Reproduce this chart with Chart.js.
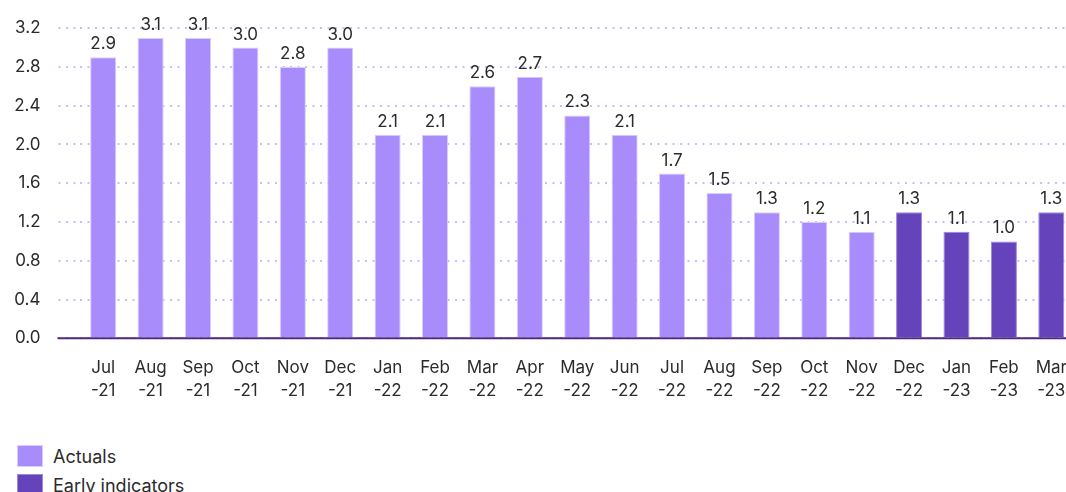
<!DOCTYPE html>
<html>
<head>
<meta charset="utf-8">
<script src="https://cdn.jsdelivr.net/npm/chart.js@4/dist/chart.umd.min.js"></script>
<style>
  html, body { margin: 0; padding: 0; background: #fff; overflow: hidden; width: 1066px; height: 492px; }
  #wrap { position: absolute; left: 0; top: 0; width: 1075px; height: 417px; }
  #legend { position: absolute; left: 17px; top: 445px; font-family: Inter, "Open Sans", sans-serif; font-size: 18px; color: #2b2b2b; }
  .item { display: flex; align-items: center; height: 22px; margin-bottom: 7px; }
  .box { width: 26px; height: 22px; margin-right: 10px; box-sizing: border-box; }
</style>
</head>
<body>
<div id="wrap"><canvas id="c"></canvas></div>
<div id="legend"></div>
<script>
const months = ['Jul','Aug','Sep','Oct','Nov','Dec','Jan','Feb','Mar','Apr','May','Jun','Jul','Aug','Sep','Oct','Nov','Dec','Jan','Feb','Mar'];
const years  = ['-21','-21','-21','-21','-21','-21','-22','-22','-22','-22','-22','-22','-22','-22','-22','-22','-22','-22','-23','-23','-23'];
const actuals = [2.9, 3.1, 3.1, 3.0, 2.8, 3.0, 2.1, 2.1, 2.6, 2.7, 2.3, 2.1, 1.7, 1.5, 1.3, 1.2, 1.1, null, null, null, null];
const earlyIndicators = [null, null, null, null, null, null, null, null, null, null, null, null, null, null, null, null, null, 1.3, 1.1, 1.0, 1.3];
const yTicks = [0, 0.4, 0.8, 1.2, 1.6, 2.0, 2.4, 2.8, 3.2];
const seriesNames = ['Actuals', 'Early indicators'];

const labels = months.map((m, i) => [m, years[i]]);
const FONT = 'Inter, "Open Sans", sans-serif';
const lightColor = '#a88cfb';
const darkColor = '#6543ba';

const valueLabels = {
  id: 'valueLabels',
  afterDatasetsDraw(chart) {
    const ctx = chart.ctx;
    ctx.save();
    ctx.font = '17px ' + FONT;
    ctx.fillStyle = '#2b2b2b';
    ctx.textAlign = 'center';
    ctx.textBaseline = 'alphabetic';
    chart.data.datasets.forEach((ds, di) => {
      const meta = chart.getDatasetMeta(di);
      meta.data.forEach((bar, i) => {
        const v = ds.data[i];
        if (v === null || v === undefined) return;
        ctx.fillText(v.toFixed(1), bar.x, bar.y - 8);
      });
    });
    ctx.restore();
  }
};

const zeroLine = {
  id: 'zeroLine',
  afterDatasetsDraw(chart) {
    const y = chart.scales.y.getPixelForValue(0);
    const ctx = chart.ctx;
    ctx.save();
    ctx.strokeStyle = '#4b2a84';
    ctx.lineWidth = 2;
    ctx.beginPath();
    ctx.moveTo(chart.chartArea.left - 22, y);
    ctx.lineTo(chart.width, y);
    ctx.stroke();
    ctx.restore();
  }
};

new Chart(document.getElementById('c'), {
  type: 'bar',
  data: {
    labels: labels,
    datasets: [
      { label: seriesNames[0], data: actuals, backgroundColor: lightColor, borderColor: '#d9cdff', borderWidth: 1, grouped: false },
      { label: seriesNames[1], data: earlyIndicators, backgroundColor: darkColor, borderColor: '#9c86de', borderWidth: 1, grouped: false }
    ]
  },
  options: {
    responsive: true,
    maintainAspectRatio: false,
    animation: false,
    layout: { padding: { left: 14.5, right: 0, top: 21, bottom: 11.5 } },
    datasets: { bar: { categoryPercentage: 1, barPercentage: 0.55 } },
    plugins: {
      legend: { display: false },
      tooltip: { enabled: false }
    },
    scales: {
      x: {
        grid: { display: true, drawOnChartArea: false, drawTicks: true, tickLength: 15, tickColor: 'rgba(0,0,0,0)' },
        border: { display: false },
        ticks: { font: { family: FONT, size: 17, lineHeight: 1.3 }, color: '#2b2b2b', padding: 4, maxRotation: 0, autoSkip: false }
      },
      y: {
        min: 0, max: 3.2,
        afterBuildTicks(scale) { scale.ticks = yTicks.map(v => ({ value: v })); },
        afterFit(scale) { scale.width = 65; },
        grid: { color: '#cbbcf7', lineWidth: 2, tickLength: 21, tickColor: '#cbbcf7', tickWidth: 2, tickBorderDash: [2, 5.5] },
        border: { display: false, dash: [2, 5.5] },
        ticks: { font: { family: FONT, size: 17 }, color: '#2b2b2b', padding: 18, callback: v => Number(v).toFixed(1) }
      }
    }
  },
  plugins: [valueLabels, zeroLine]
});

const legend = document.getElementById('legend');
[[seriesNames[0], lightColor, '#d9cdff'], [seriesNames[1], darkColor, '#9c86de']].forEach(([name, col, bc]) => {
  const it = document.createElement('div');
  it.className = 'item';
  const b = document.createElement('div');
  b.className = 'box';
  b.style.background = col;
  b.style.border = '1px solid ' + bc;
  const t = document.createElement('span');
  t.textContent = name;
  it.appendChild(b); it.appendChild(t);
  legend.appendChild(it);
});
</script>
</body>
</html>
